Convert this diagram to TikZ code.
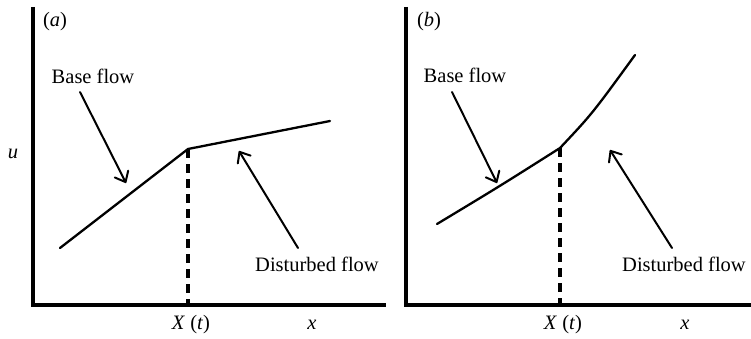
\documentclass[tikz,border=0pt]{standalone}
\usepackage{fontspec}
\setmainfont{Liberation Serif}
\usetikzlibrary{arrows.meta, positioning}

\begin{document}
\begin{tikzpicture}[x=1pt, y=-1pt, font=\fontsize{20.5}{24}\selectfont]

% Define styles
\tikzstyle{axis} = [line width=3.6pt]
\tikzstyle{profile} = [line width=2.3pt, line join=round, line cap=round]
\tikzstyle{front} = [line width=3.2pt, dash pattern=on 9pt off 6pt]
\tikzstyle{arrow} = [line width=2pt, line cap=round, -{Straight Barb[length=9pt,width=15pt,round]}]
\tikzstyle{lbl} = [inner sep=0pt]

\useasboundingbox (0,0) rectangle (751,339);

% Panel (a): axes
\coordinate (a-top) at (33,7);
\coordinate (a-origin) at (33,305);
\coordinate (a-right) at (386,305);
\draw [axis] (a-top) -- (a-origin) -- (a-right);

% Panel (a): profile
\coordinate (a-start) at (60,248);
\coordinate (a-kink) at (188,149);
\coordinate (a-end) at (330,121);
\draw [profile] (a-start) -- (a-kink) -- (a-end);
\draw [front] (a-kink) -- (a-kink |- a-origin);

% Panel (a): labels
\node [lbl] (a-tag) at (55,22) {(\textit{a})};
\node [lbl] (a-u) at (13,154) {\textit{u}};
\node [lbl] (a-base) at (93,76) {Base flow};
\node [lbl, anchor=west] (a-dist) at (255,264) {Disturbed flow};
\node [lbl] (a-front) at (191,325) {\textit{X} (\textit{t})};
\node [lbl] (a-x) at (312,325) {\textit{x}};

% Panel (a): pointers
\coordinate (a-base-from) at (80,92);
\coordinate (a-base-to) at (126,183);
\coordinate (a-dist-from) at (298,248);
\coordinate (a-dist-to) at (239,151);
\draw [arrow] (a-base-from) -- (a-base-to);
\draw [arrow] (a-dist-from) -- (a-dist-to);

% Panel (b): axes
\coordinate (b-top) at (406,7);
\coordinate (b-origin) at (406,305);
\coordinate (b-right) at (751,305);
\draw [axis] (b-top) -- (b-origin) -- (b-right);

% Panel (b): profile
\coordinate (b-start) at (437,224);
\coordinate (b-kink) at (560,148);
\coordinate (b-end) at (635,55);
\draw [profile] (b-start) .. controls (500,186) .. (b-kink) .. controls (592,114) .. (b-end);
\draw [front] (b-kink) -- (b-kink |- b-origin);

% Panel (b): labels
\node [lbl] (b-tag) at (429,22) {(\textit{b})};
\node [lbl] (b-base) at (465,75) {Base flow};
\node [lbl, anchor=west] (b-dist) at (622,264) {Disturbed flow};
\node [lbl] (b-front) at (563,325) {\textit{X} (\textit{t})};
\node [lbl] (b-x) at (685,325) {\textit{x}};

% Panel (b): pointers
\coordinate (b-base-from) at (452,92);
\coordinate (b-base-to) at (497,183);
\coordinate (b-dist-from) at (672,248);
\coordinate (b-dist-to) at (610,150);
\draw [arrow] (b-base-from) -- (b-base-to);
\draw [arrow] (b-dist-from) -- (b-dist-to);

\end{tikzpicture}
\end{document}
